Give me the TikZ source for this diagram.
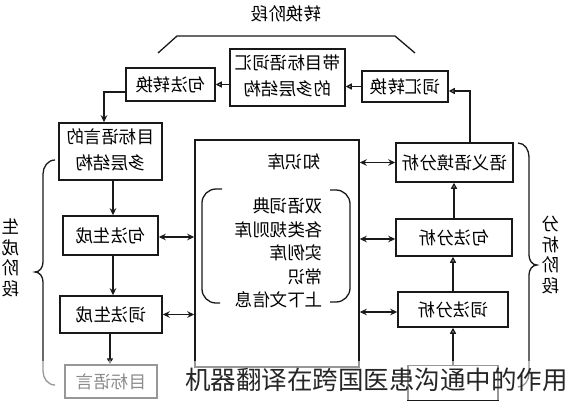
\documentclass[tikz,border=0pt]{standalone}
\usepackage{graphicx}
\usepackage{fontspec}
\newfontfamily\cjk{Noto Sans CJK SC}
\usetikzlibrary{arrows.meta}
\newcommand{\mir}[1]{\reflectbox{#1}}
\tikzset{
  box/.style={draw=black!90, line width=1.5pt, rectangle, inner sep=0pt, font=\cjk\fontsize{17.5}{26}\selectfont},
  lbl/.style={inner sep=0pt, font=\cjk\fontsize{17.5}{26}\selectfont},
  ln/.style={line width=1.4pt, draw=black!90},
  arr/.style={ln, -{Stealth[length=7pt,width=6.5pt]}},
  oarr/.style={ln, -{Triangle[open,length=6pt,width=6pt]}},
  darr/.style={ln, {Stealth[length=7pt,width=6.5pt]}-{Stealth[length=7pt,width=6.5pt]}},
  brace/.style={line width=1.3pt, draw=black!90}
}
\begin{document}
\begin{tikzpicture}[x=1pt,y=-1pt]
\useasboundingbox (0,0) rectangle (570,400);
\fill[white] (0,0) rectangle (570,400);

% title and top brace
\node[lbl] (tt) at (286,14) {\mir{转换阶段}};
\draw[brace] (158,53) -- (177,36) -- (395,36) -- (415,53);

% top row
\node[box, minimum width=89pt, minimum height=33pt] (jfzh) at (170.5,84.5) {\mir{句法转换}};
\node[box, minimum width=115pt, minimum height=57pt] (dmb) at (287.5,77.5) {\mir{\begin{tabular}{@{}c@{}}带目标语词汇\\的多层结构\end{tabular}}};
\node[box, minimum width=86pt, minimum height=31pt] (chzh) at (405,86.5) {\mir{词汇转换}};

% left column (generation)
\node[box, minimum width=103pt, minimum height=57pt] (mbyy) at (110.5,151.5) {\mir{\begin{tabular}{@{}c@{}}目标语言的\\多层结构\end{tabular}}};
\node[box, minimum width=95pt, minimum height=39pt] (jfsc) at (110.5,235.5) {\mir{句法生成}};
\node[box, minimum width=102pt, minimum height=37pt] (cfsc) at (111,314.5) {\mir{词法生成}};
\node[box, minimum width=92pt, minimum height=33pt] (mbyy2) at (111,381.5) {\mir{目标语言}};

% knowledge base
\node[box, minimum width=164pt, minimum height=227pt] (zsk) at (277,253.5) {};
\node[lbl] (zskt) at (294,162) {\mir{知识库}};
\node[lbl, anchor=east, font=\cjk\fontsize{17.5}{23.5}\selectfont] (lst) at (323,255)
  {\mir{\begin{tabular}{@{}l@{}}双语词典\\各类规则库\\实例库\\常识\\上下文信息\end{tabular}}};
\draw[brace, rounded corners=14pt] (222,189) -- (202,189) -- (202,303) -- (220,303);
\draw[brace, rounded corners=14pt] (330,190) -- (350,190) -- (350,302) -- (330,302);

% right column (analysis)
\node[box, minimum width=117pt, minimum height=39pt] (yyyj) at (454.5,162.5) {\mir{语义语境分析}};
\node[box, minimum width=116pt, minimum height=37pt] (jffx) at (454,237.5) {\mir{句法分析}};
\node[box, minimum width=110pt, minimum height=35pt] (cffx) at (453,309.5) {\mir{词法分析}};
\node[box, minimum width=90pt, minimum height=35pt] (src) at (453,383) {};

% side braces and labels
\draw[brace] (55,160) to[out=180,in=90] (43,174) -- (43,262) to[out=-90,in=0] (35,272) to[out=0,in=90] (43,282) -- (43,371) to[out=-90,in=180] (55,385);
\draw[brace] (518,143) to[out=0,in=90] (529,157) -- (529,255) to[out=-90,in=180] (537,265) to[out=180,in=90] (529,275) -- (529,373) to[out=-90,in=0] (518,387);
\node[lbl, font=\cjk\fontsize{17.5}{19}\selectfont] (scjd) at (11,260) {\mir{\begin{tabular}{@{}c@{}}生\\成\\阶\\段\end{tabular}}};
\node[lbl, font=\cjk\fontsize{17.5}{19}\selectfont] (fxjd) at (551,257) {\mir{\begin{tabular}{@{}c@{}}分\\析\\阶\\段\end{tabular}}};

% connectors, top
\draw[oarr] (dmb.west |- jfzh.east) -- (jfzh.east);
\draw[oarr] (chzh.west) -- (chzh.west -| dmb.east);
\draw[oarr] ([xshift=15.5pt]yyyj.north) |- ([yshift=-4.5pt]chzh.east);
\draw[arr] ([yshift=-7.5pt]jfzh.west) -| ([xshift=-6.5pt]mbyy.north);

% connectors, left
\draw[arr] ([xshift=2.5pt]mbyy.south) -- ([xshift=2.5pt]jfsc.north);
\draw[arr] ([xshift=2.5pt]jfsc.south) -- ([xshift=2pt]cfsc.north);
\draw[oarr] ([xshift=-1pt]cfsc.south) -- ([xshift=-1pt]mbyy2.north);

% double arrows
\draw[darr] ([yshift=-1.5pt]jfsc.east) -- ([yshift=-1.5pt]jfsc.east -| zsk.west);
\draw[darr] (cfsc.east) -- (cfsc.east -| zsk.west);
\draw[darr] (zsk.east |- yyyj.west) -- (yyyj.west);
\draw[darr] ([yshift=-1.5pt]zsk.east |- jffx.west) -- ([yshift=-1.5pt]jffx.west);
\draw[darr] ([yshift=-2.5pt]zsk.east |- cffx.west) -- ([yshift=-2.5pt]cffx.west);

% connectors, right
\draw[oarr] (src.north) -- (cffx.south);
\draw[oarr] (cffx.north) -- (cffx.north |- jffx.south);
\draw[oarr] (jffx.north) -- (jffx.north |- yyyj.south);

% faded bottom band and caption
\fill[white, opacity=0.55] (0,361) rectangle (570,400);
\node[inner sep=0pt, text=black!85, font=\cjk\fontsize{25.5}{26}\selectfont] (cap) at (376.5,380) {机器翻译在跨国医患沟通中的作用};
\end{tikzpicture}
\end{document}
